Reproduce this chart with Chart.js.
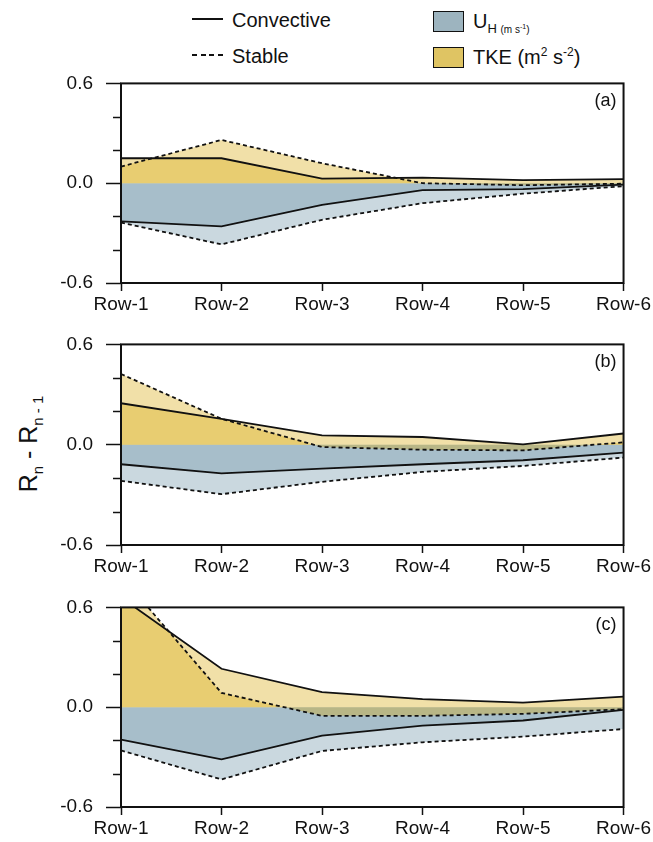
<!DOCTYPE html>
<html>
<head>
<meta charset="utf-8">
<script src="https://cdn.jsdelivr.net/npm/chart.js@4.4.1/dist/chart.umd.min.js"></script>
<style>
  html, body { margin: 0; padding: 0; background: #fff; overflow: hidden; }
  body { width: 653px; height: 842px; position: relative; font-family: "Liberation Sans", Arial, sans-serif; color: #111; }
  canvas { position: absolute; left: 0; }
  .lg { position: absolute; white-space: nowrap; line-height: 1; }
  .txt { font-size: 20px; }
  .sw { position: absolute; width: 29px; height: 19px; border: 1px solid #111; }
  sup, sub { line-height: 0; }
</style>
</head>
<body>
<!-- legend -->
<div class="lg" style="left:192px; top:18px; width:31px; height:2px; background:#111;"></div>
<div class="lg txt" style="left:232px; top:10px;">Convective</div>
<div class="lg" style="left:192px; top:54px; width:31px; height:2px; background:repeating-linear-gradient(to right,#111 0 5px,transparent 5px 8.7px);"></div>
<div class="lg txt" style="left:232px; top:46px;">Stable</div>
<div class="sw" style="left:433px; top:11px; background:#9DB4BF;"></div>
<div class="lg txt" style="left:473px; top:11px;">U<span style="font-size:13px; position:relative; top:5px;">H <span style="font-size:10px;">(m s<sup style="font-size:7px;">-1</sup>)</span></span></div>
<div class="sw" style="left:433px; top:47px; background:#DFC463;"></div>
<div class="lg txt" style="left:473px; top:47px;">TKE (m<sup style="font-size:12px;">2</sup> s<sup style="font-size:12px;">-2</sup>)</div>
<!-- y title -->
<div class="lg" style="left:28px; top:444px; font-size:25px; transform:translate(-50%,-50%) rotate(-90deg); transform-origin:center;">R<sub style="font-size:15px;">n</sub> - R<sub style="font-size:15px;">n - 1</sub></div>

<canvas id="pa" width="653" height="254" style="top:59px;"></canvas>
<canvas id="pb" width="653" height="255" style="top:320px;"></canvas>
<canvas id="pc" width="653" height="254" style="top:583px;"></canvas>

<script>
// ---- data ----
const rows = ['Row-1', 'Row-2', 'Row-3', 'Row-4', 'Row-5', 'Row-6'];
const yTickLabels = ['-0.6', '0.0', '0.6'];

const aTkeConv = [0.15, 0.15, 0.027, 0.034, 0.018, 0.025];
const aTkeStab = [0.10, 0.26, 0.12, 0.0, -0.012, -0.003];
const aUhConv  = [-0.23, -0.26, -0.13, -0.042, -0.036, -0.008];
const aUhStab  = [-0.237, -0.368, -0.22, -0.12, -0.063, -0.018];

const bTkeConv = [0.248, 0.155, 0.056, 0.046, 0.002, 0.067];
const bTkeStab = [0.423, 0.155, -0.014, -0.03, -0.034, 0.014];
const bUhConv  = [-0.117, -0.171, -0.143, -0.117, -0.093, -0.048];
const bUhStab  = [-0.216, -0.296, -0.222, -0.163, -0.127, -0.077];

const cTkeConv = [0.66, 0.231, 0.09, 0.048, 0.028, 0.064];
const cTkeStab = [0.79, 0.086, -0.052, -0.052, -0.04, -0.012];
const cUhConv  = [-0.195, -0.314, -0.171, -0.111, -0.08, -0.016];
const cUhStab  = [-0.26, -0.434, -0.263, -0.211, -0.177, -0.131];

// ---- styles ----
const FONT = '"Liberation Sans", Arial, sans-serif';
const GOLD = 'rgba(216,169,13,0.36)';
const BLUE = 'rgba(100,140,160,0.34)';
const INK = '#111';

function labelFor(v) {
  const s = (Math.abs(v) < 1e-9 ? 0 : v).toFixed(1);
  return yTickLabels.includes(s) ? s : '';
}

const framePlugin = {
  id: 'frame',
  afterDatasetsDraw(chart, args, opts) {
    const { ctx, chartArea: a } = chart;
    const y = chart.scales.y;
    ctx.save();
    ctx.strokeStyle = INK;
    ctx.lineWidth = 1.5;
    // minor ticks
    y.ticks.forEach(t => {
      if (labelFor(t.value) === '') {
        const py = Math.round(y.getPixelForValue(t.value)) + 0.5;
        ctx.beginPath();
        ctx.moveTo(a.left - 8, py);
        ctx.lineTo(a.left, py);
        ctx.stroke();
      }
    });
    ctx.lineWidth = 2;
    ctx.strokeRect(a.left, a.top, a.right - a.left, a.bottom - a.top);
    ctx.fillStyle = INK;
    ctx.font = '18px ' + FONT;
    ctx.textAlign = 'right';
    ctx.textBaseline = 'middle';
    ctx.fillText(opts.tag, a.right - 7, a.top + 18);
    ctx.restore();
  }
};

function ds(label, data, fillColor, dashed) {
  return {
    label, data,
    borderColor: INK,
    borderWidth: 1.8,
    borderDash: dashed ? [4, 3] : [],
    backgroundColor: fillColor,
    fill: 'origin',
    pointRadius: 0,
    tension: 0
  };
}

function makePanel(id, tag, tkeConv, tkeStab, uhConv, uhStab) {
  new Chart(document.getElementById(id), {
    type: 'line',
    data: {
      labels: rows,
      datasets: [
        ds('TKE Convective', tkeConv, GOLD, false),
        ds('TKE Stable', tkeStab, GOLD, true),
        ds('UH Convective', uhConv, BLUE, false),
        ds('UH Stable', uhStab, BLUE, true)
      ]
    },
    options: {
      responsive: false,
      animation: false,
      devicePixelRatio: 1,
      layout: { autoPadding: false, padding: { left: 0, right: 28, top: 10, bottom: 0 } },
      plugins: {
        legend: { display: false },
        tooltip: { enabled: false },
        filler: { drawTime: 'beforeDatasetsDraw' },
        frame: { tag }
      },
      scales: {
        x: {
          type: 'category',
          offset: false,
          border: { display: false },
          grid: { display: true, drawOnChartArea: false, drawTicks: true, tickLength: 8, tickColor: INK, tickWidth: 1.5 },
          ticks: { color: INK, font: { family: FONT, size: 19 }, padding: 2, maxRotation: 0, autoSkip: false },
          afterFit(s) { s.height = 30; }
        },
        y: {
          min: -0.6, max: 0.6,
          border: { display: false },
          grid: {
            display: true, drawOnChartArea: false, drawTicks: true, tickLength: 15, tickWidth: 1.5,
            tickColor: c => (c.tick && labelFor(c.tick.value) !== '') ? INK : 'rgba(0,0,0,0)'
          },
          ticks: { stepSize: 0.2, color: INK, font: { family: FONT, size: 19 }, padding: 13, callback: v => labelFor(v) },
          afterFit(s) { s.width = 121; }
        }
      }
    },
    plugins: [framePlugin]
  });
}

makePanel('pa', '(a)', aTkeConv, aTkeStab, aUhConv, aUhStab);
makePanel('pb', '(b)', bTkeConv, bTkeStab, bUhConv, bUhStab);
makePanel('pc', '(c)', cTkeConv, cTkeStab, cUhConv, cUhStab);
</script>
</body>
</html>
